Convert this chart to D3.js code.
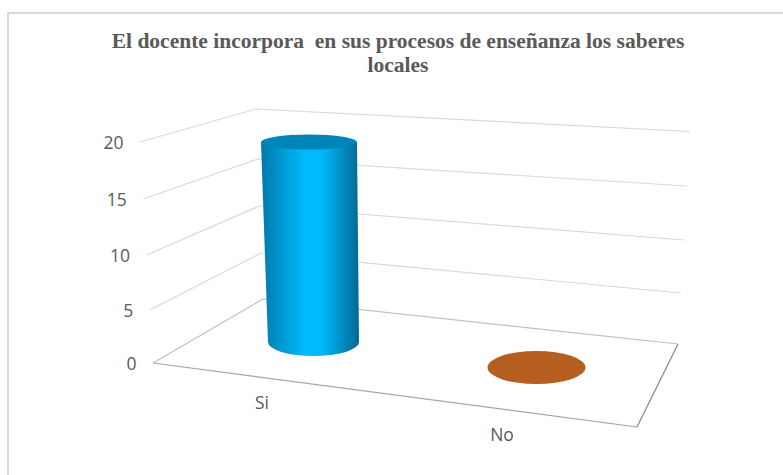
<!DOCTYPE html>
<html>
<head>
<meta charset="utf-8">
<script src="https://cdn.jsdelivr.net/npm/d3@7"></script>
<style>
  body { margin: 0; background: #fff; }
  svg { display: block; }
  .tick-label { font-family: "Open Sans", sans-serif; font-size: 17.5px; fill: #595959; }
  .chart-title { font-family: "Liberation Serif", serif; font-weight: bold; font-size: 21.5px; fill: #595959; white-space: pre; }
</style>
</head>
<body>
<svg id="chart" width="783" height="475"></svg>
<script>
const categories = ['Si', 'No'];
const values = [20, 0];
const yTicks = [0, 5, 10, 15, 20];
const colors = ['url(#cyl-si)', '#b55e20'];
const topColors = ['#0085b8', '#b55e20'];
const titleLines = ['El docente incorpora  en sus procesos de enseñanza los saberes', 'locales'];

const svg = d3.select('#chart');

// frame, only top and left edges show in the picture
svg.append('path')
    .attr('d', 'M8,475V13H783')
    .attr('fill', 'none')
    .attr('stroke', '#d9d9d9')
    .attr('stroke-width', 2);

// the 3D box: three vertical edges, each one has its own value scale
// (perspective is not quite linear so y goes through every tick)
const leftX = d3.scaleLinear().domain([0, 20]).range([153, 140]);
const leftY = d3.scaleLinear().domain(yTicks).range([363, 310, 255, 199, 142]);
const backX = d3.scaleLinear().domain([0, 20]).range([263, 256]);
const backY = d3.scaleLinear().domain(yTicks).range([299, 253, 206, 159, 109]);
const rightX = d3.scaleLinear().domain([0, 20]).range([678, 690]);
const rightY = d3.scaleLinear().domain(yTicks).range([344, 293, 240, 186, 131.5]);

// floor front edge
const front = {x0: 153, y0: 363, x1: 637, y1: 427};
const frontY = d3.scaleLinear().domain([front.x0, front.x1]).range([front.y0, front.y1]);

yTicks.forEach(t => {
  const pts = [[leftX(t), leftY(t)], [backX(t), backY(t)], [rightX(t), rightY(t)]];
  svg.append('path')
      .attr('d', d3.line()(pts))
      .attr('fill', 'none')
      .attr('stroke', t === 0 ? '#bfbfbf' : '#d9d9d9')
      .attr('stroke-width', 1.2);
  svg.append('text')
      .attr('class', 'tick-label')
      .attr('x', leftX(t) - 16.5)
      .attr('y', leftY(t) + 7)
      .attr('text-anchor', 'end')
      .text(t);
});

// floor outline
svg.append('path')
    .attr('d', d3.line()([[leftX(0), leftY(0)], [front.x1, front.y1]]))
    .attr('stroke', '#a6a6a6').attr('stroke-width', 1.2).attr('fill', 'none');
svg.append('path')
    .attr('d', d3.line()([[front.x1, front.y1], [rightX(0), rightY(0)]]))
    .attr('stroke', '#8c8c8c').attr('stroke-width', 1.3).attr('fill', 'none');

// categories
const xBar = d3.scalePoint().domain(categories).range([313.5, 536.5]);
const yBase = d3.scalePoint().domain(categories).range([342, 367.5]);
const xLabel = d3.scalePoint().domain(categories).range([262, 502]);
const baseRx = d3.scalePoint().domain(categories).range([45.5, 49]);
const baseRy = d3.scalePoint().domain(categories).range([14, 16.5]);

const barHeight = d3.scaleLinear().domain([0, 20]).range([0, 200]);
const lean = d3.scaleLinear().domain([0, 20]).range([0, -4.5]);
const growRx = d3.scaleLinear().domain([0, 20]).range([0, 2.5]);
const shrinkRy = d3.scaleLinear().domain([0, 20]).range([0, 6.5]);

const defs = svg.append('defs');
const grad = defs.append('linearGradient').attr('id', 'cyl-si');
[[0, '#0079a9'], [0.2, '#0097cf'], [0.45, '#00bbff'], [0.62, '#00b9fa'], [0.85, '#0088bb'], [1, '#006a94']]
  .forEach(s => grad.append('stop').attr('offset', s[0]).attr('stop-color', s[1]));

categories.forEach((c, i) => {
  const v = values[i];
  const bx = xBar(c), by = yBase(c), rx = baseRx(c), ry = baseRy(c);
  const tx = bx + lean(v), ty = by - barHeight(v);
  const trx = rx + growRx(v), tryy = ry - shrinkRy(v);
  if (v > 0) {
    svg.append('path')
        .attr('d', `M${tx - trx},${ty}L${bx - rx},${by}A${rx},${ry} 0 0 0 ${bx + rx},${by}L${tx + trx},${ty}Z`)
        .attr('fill', colors[i]);
  }
  svg.append('ellipse')
      .attr('cx', tx).attr('cy', ty)
      .attr('rx', trx).attr('ry', tryy)
      .attr('fill', topColors[i]);
  svg.append('text')
      .attr('class', 'tick-label')
      .attr('x', xLabel(c))
      .attr('y', frontY(xLabel(c)) + 32)
      .attr('text-anchor', 'middle')
      .text(c);
});

// title
svg.selectAll('.chart-title')
    .data(titleLines)
  .join('text')
    .attr('class', 'chart-title')
    .attr('x', 398)
    .attr('y', (d, i) => 48 + i * 24)
    .attr('text-anchor', 'middle')
    .text(d => d);
</script>
</body>
</html>
